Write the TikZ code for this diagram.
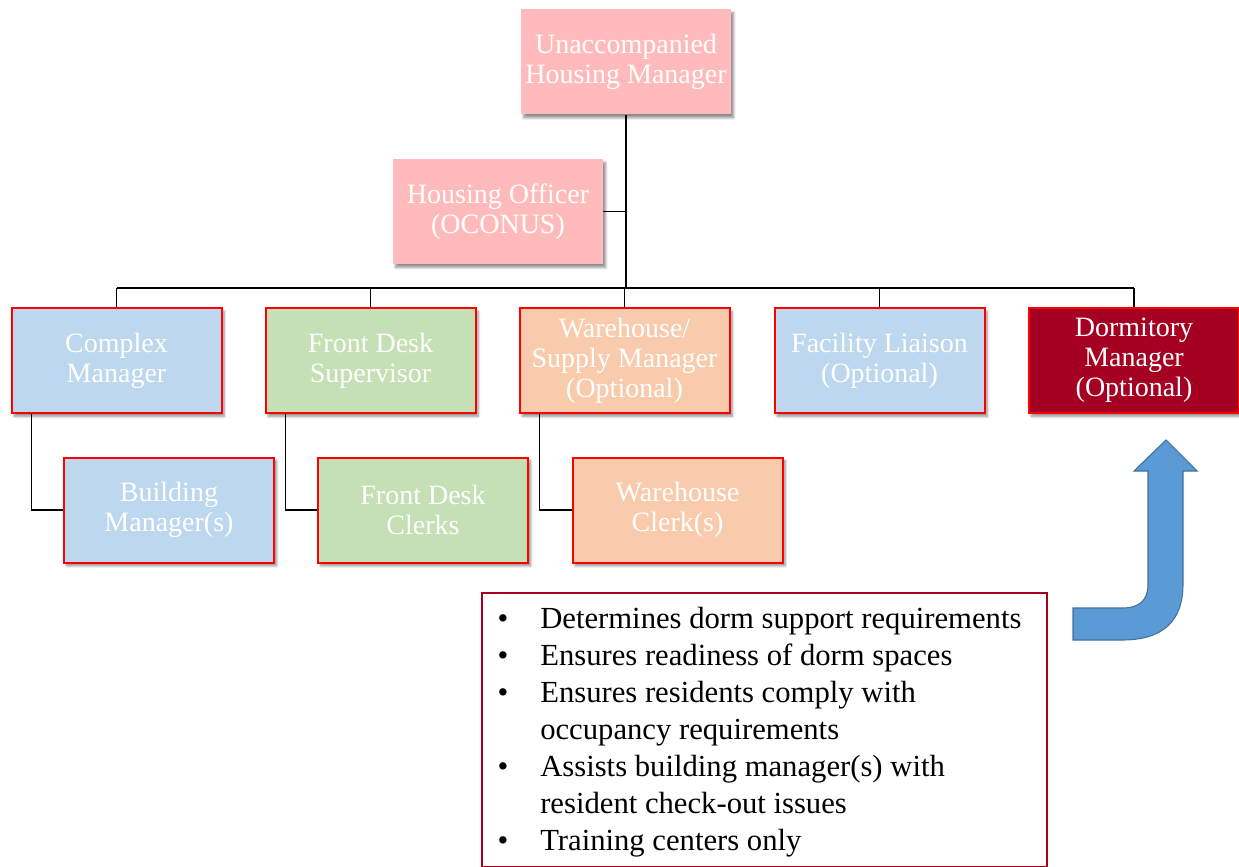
\documentclass[tikz,border=0pt]{standalone}
\usepackage{fontspec}
\setmainfont{Liberation Serif}
\usetikzlibrary{shadows.blur}
\definecolor{pinkfill}{HTML}{FFBBBB}
\definecolor{bluefill}{HTML}{BDD7EE}
\definecolor{greenfill}{HTML}{C5E0B4}
\definecolor{orangefill}{HTML}{F8CBAD}
\definecolor{dormred}{HTML}{A50021}
\definecolor{arrowblue}{HTML}{5B9BD5}
\definecolor{arrowedge}{HTML}{41719C}
\begin{document}
\begin{tikzpicture}[x=0.75pt,y=-0.75pt,
  role/.style={minimum width=157.5pt, minimum height=78.75pt, inner sep=2pt,
    text=white, align=center, font=\fontsize{21}{22.5}\selectfont,
    blur shadow={shadow xshift=2pt, shadow yshift=-2.5pt, shadow blur steps=6, shadow opacity=45}},
  chief/.style={role, fill=pinkfill},
  unit/.style={role, draw=red, line width=1.5pt},
  link/.style={line width=1.4pt, black},
  duty/.style={anchor=base west, inner sep=0pt, font=\fontsize{23}{27.75}\selectfont},
  dot/.style={anchor=base, inner sep=0pt, font=\fontsize{23}{27.75}\selectfont},
]
\useasboundingbox (0,0) rectangle (1239,867);

% top of the hierarchy
\node[chief] (uhm) at (626,62) {Unaccompanied\\Housing Manager};
\node[chief] (ho) at (498,211.5) {Housing Officer\\(OCONUS)};

% second level
\node[unit, fill=bluefill]   (cm)  at (116.5,360.5) {Complex\\Manager};
\node[unit, fill=greenfill]  (fds) at (370.5,360.5) {Front Desk\\Supervisor};
\node[unit, fill=orangefill] (wsm) at (624.5,360.5) {Warehouse/\\Supply Manager\\(Optional)};
\node[unit, fill=bluefill]   (fl)  at (879.5,360.5) {Facility Liaison\\(Optional)};
\node[unit, fill=dormred]    (dm)  at (1134,360.5) {Dormitory\\Manager\\(Optional)};

% third level
\node[unit, fill=bluefill]   (bm)  at (169,510) {Building\\Manager(s)};
\node[unit, fill=greenfill]  (fdc) at (423,510) {Front Desk\\Clerks};
\node[unit, fill=orangefill] (wc)  at (677.5,510) {Warehouse\\Clerk(s)};

% connectors
\coordinate (bus) at (626,288);
\draw[link] (uhm.south) -- (bus);
\draw[link] (ho.east) -- (ho.east -| uhm.south);
\draw[link] (cm.north |- bus) -- (dm.north |- bus);
\foreach \n in {cm,fds,wsm,fl,dm}
  \draw[link] (\n.north |- bus) -- (\n.north);
\draw[link] ([xshift=15.75pt]cm.south west) |- (bm.west);
\draw[link] ([xshift=15.75pt]fds.south west) |- (fdc.west);
\draw[link] ([xshift=15.75pt]wsm.south west) |- (wc.west);

% duties of the dormitory manager
\node[draw=dormred, line width=1.5pt, minimum width=423.75pt, minimum height=205.5pt,
  inner sep=0pt, anchor=north west] (duties) at (481,592) {};
\node[dot] (b1) at (503,628) {•};
\node[duty] (t1) at (540,628) {Determines dorm support requirements};
\node[dot] (b2) at (503,665) {•};
\node[duty] (t2) at (540,665) {Ensures readiness of dorm spaces};
\node[dot] (b3) at (503,702) {•};
\node[duty] (t3) at (540,702) {Ensures residents comply with};
\node[duty] (t4) at (540,739) {occupancy requirements};
\node[dot] (b4) at (503,776) {•};
\node[duty] (t5) at (540,776) {Assists building manager(s) with};
\node[duty] (t6) at (540,813) {resident check-out issues};
\node[dot] (b5) at (503,850) {•};
\node[duty] (t7) at (540,850) {Training centers only};

% bent arrow pointing up to the dormitory manager
\draw[fill=arrowblue, draw=arrowedge, line width=0.8pt, line join=miter]
  (1073,608) -- (1122,608)
  .. controls (1140,608) and (1148,600) .. (1148,584)
  -- (1148,471) -- (1134,471) -- (1166,440) -- (1197,471) -- (1183,471)
  -- (1183,584)
  .. controls (1183,622) and (1162,640) .. (1122,640)
  -- (1073,640) -- cycle;
\end{tikzpicture}
\end{document}
